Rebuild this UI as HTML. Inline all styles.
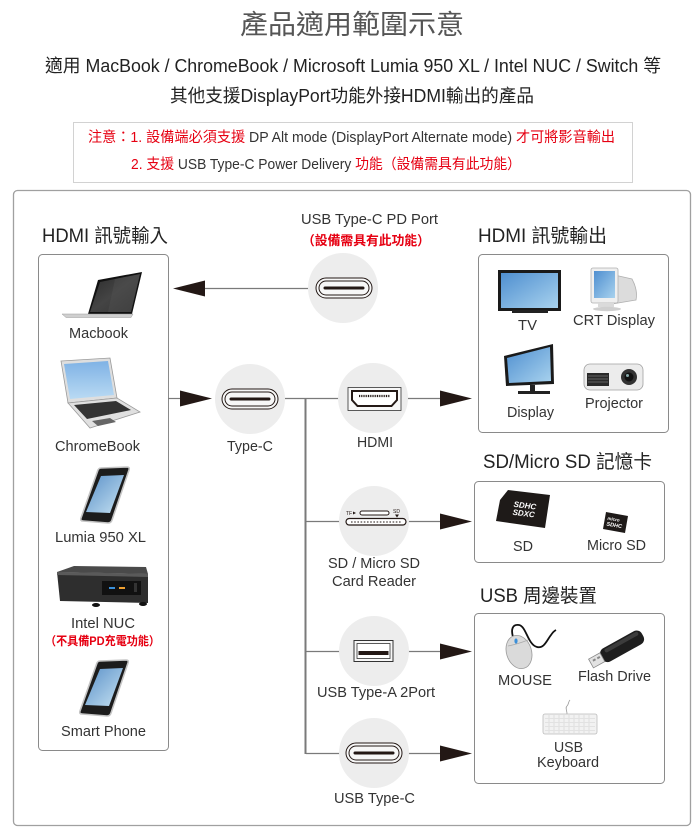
<!DOCTYPE html>
<html><head><meta charset="utf-8"><style>
html,body{margin:0;padding:0;background:#fff;}
svg{display:block;font-family:"Liberation Sans","Noto Sans CJK TC",sans-serif;}
</style></head><body>
<svg width="700" height="838" viewBox="0 0 700 838" xmlns="http://www.w3.org/2000/svg">
<defs>
<linearGradient id="blue" x1="0" y1="0" x2="1" y2="1"><stop offset="0" stop-color="#4f8fd0"/><stop offset="1" stop-color="#a8d2ee"/></linearGradient>
<linearGradient id="blue2" x1="0" y1="0" x2="0" y2="1"><stop offset="0" stop-color="#7fb2e5"/><stop offset="1" stop-color="#b9daf3"/></linearGradient>
<linearGradient id="phone" x1="0" y1="0" x2="1" y2="1"><stop offset="0" stop-color="#5a90c8"/><stop offset="1" stop-color="#c6e2f2"/></linearGradient>
<linearGradient id="mac" x1="0" y1="0" x2="1" y2="1"><stop offset="0" stop-color="#2a2a2a"/><stop offset="0.5" stop-color="#444"/><stop offset="1" stop-color="#333"/></linearGradient>
</defs>

<!-- Header -->
<text x="240" y="34" font-size="27" fill="#555" textLength="224" lengthAdjust="spacingAndGlyphs">產品適用範圍示意</text>
<text x="45" y="72" font-size="18" fill="#222" textLength="616" lengthAdjust="spacingAndGlyphs">適用 MacBook / ChromeBook / Microsoft Lumia 950 XL / Intel NUC  / Switch 等</text>
<text x="170" y="102" font-size="18" fill="#222" textLength="364" lengthAdjust="spacingAndGlyphs">其他支援DisplayPort功能外接HDMI輸出的產品</text>

<rect x="73.5" y="122.5" width="559" height="60" fill="#fff" stroke="#d2d2d2" stroke-width="1"/>
<text x="88" y="142" font-size="14.5" textLength="527" lengthAdjust="spacingAndGlyphs"><tspan fill="#e60012">注意：1. 設備端必須支援</tspan><tspan fill="#333"> DP Alt mode (DisplayPort Alternate mode) </tspan><tspan fill="#e60012">才可將影音輸出</tspan></text>
<text x="131" y="169" font-size="14.5" textLength="390" lengthAdjust="spacingAndGlyphs"><tspan fill="#e60012">2. 支援</tspan><tspan fill="#333"> USB Type-C Power Delivery </tspan><tspan fill="#e60012">功能（設備需具有此功能）</tspan></text>

<!-- Main frame -->
<rect x="13.5" y="190.5" width="677" height="635" rx="4" fill="#fff" stroke="#a0a0a0" stroke-width="1.3"/>

<!-- Section headers -->
<text x="42" y="242" font-size="19" fill="#222" textLength="126" lengthAdjust="spacingAndGlyphs">HDMI 訊號輸入</text>
<text x="478" y="242" font-size="19" fill="#222" textLength="129" lengthAdjust="spacingAndGlyphs">HDMI 訊號輸出</text>
<text x="483" y="468" font-size="19" fill="#222" textLength="169" lengthAdjust="spacingAndGlyphs">SD/Micro SD 記憶卡</text>
<text x="480" y="602" font-size="19" fill="#222" textLength="117" lengthAdjust="spacingAndGlyphs">USB 周邊裝置</text>

<!-- Boxes -->
<rect x="38.5" y="254.5" width="130" height="496" rx="4" fill="#fff" stroke="#8a8a8a" stroke-width="1"/>
<rect x="478.5" y="254.5" width="190" height="178" rx="4" fill="#fff" stroke="#8a8a8a" stroke-width="1"/>
<rect x="474.5" y="481.5" width="190" height="81" rx="4" fill="#fff" stroke="#8a8a8a" stroke-width="1"/>
<rect x="474.5" y="613.5" width="190" height="170" rx="4" fill="#fff" stroke="#8a8a8a" stroke-width="1"/>

<!-- Connector lines -->
<g stroke="#7a7a7a" stroke-width="1.2" fill="none">
<line x1="308" y1="288.5" x2="204" y2="288.5"/>
<line x1="168" y1="398.5" x2="182" y2="398.5"/>
<line x1="285" y1="398.5" x2="340" y2="398.5"/>
<line x1="408" y1="398.5" x2="442" y2="398.5"/>
<line x1="306" y1="521.5" x2="340" y2="521.5"/>
<line x1="408" y1="521.5" x2="442" y2="521.5"/>
<line x1="306" y1="651.5" x2="340" y2="651.5"/>
<line x1="408" y1="651.5" x2="442" y2="651.5"/>
<line x1="306" y1="753.5" x2="340" y2="753.5"/>
<line x1="408" y1="753.5" x2="442" y2="753.5"/>
</g>
<line x1="305.5" y1="398" x2="305.5" y2="754" stroke="#7a7a7a" stroke-width="2"/>

<!-- Arrowheads -->
<g fill="#231815">
<polygon points="173,288.5 205,280.5 205,296.5"/>
<polygon points="212,398.5 180,390.5 180,406.5"/>
<polygon points="472,398.5 440,390.5 440,406.5"/>
<polygon points="472,521.5 440,513.5 440,529.5"/>
<polygon points="472,651.5 440,643.5 440,659.5"/>
<polygon points="472,753.5 440,745.5 440,761.5"/>
</g>

<!-- Circles -->
<g fill="#ededed">
<circle cx="343" cy="288" r="35"/>
<circle cx="250" cy="399" r="35"/>
<circle cx="373" cy="398" r="35"/>
<circle cx="374" cy="521" r="35"/>
<circle cx="374" cy="651" r="35"/>
<circle cx="374" cy="753" r="35"/>
</g>

<!-- Type-C icons -->
<g stroke="#231815" fill="none">
<g transform="translate(344,288)">
<rect x="-28" y="-10" width="56" height="20" rx="10" fill="#f7f7f7" stroke-width="1"/>
<rect x="-25" y="-7" width="50" height="14" rx="7" stroke-width="1"/>
<line x1="-19" y1="0" x2="19" y2="0" stroke-width="3" stroke-linecap="round"/>
</g>
<g transform="translate(250,399)">
<rect x="-28" y="-10" width="56" height="20" rx="10" fill="#f7f7f7" stroke-width="1"/>
<rect x="-25" y="-7" width="50" height="14" rx="7" stroke-width="1"/>
<line x1="-19" y1="0" x2="19" y2="0" stroke-width="3" stroke-linecap="round"/>
</g>
<g transform="translate(374,753)">
<rect x="-28" y="-10" width="56" height="20" rx="10" fill="#f7f7f7" stroke-width="1"/>
<rect x="-25" y="-7" width="50" height="14" rx="7" stroke-width="1"/>
<line x1="-19" y1="0" x2="19" y2="0" stroke-width="3" stroke-linecap="round"/>
</g>
</g>

<!-- HDMI icon -->
<rect x="348" y="387.5" width="53" height="23" fill="#f7f7f7" stroke="#333" stroke-width="0.8"/>
<path d="M352,391 H397 V400 L391.5,406 H357.5 L352,400 Z" fill="#fff" stroke="#231815" stroke-width="2"/>
<line x1="359" y1="396" x2="390" y2="396" stroke="#231815" stroke-width="2.2" stroke-dasharray="1,0.8"/>

<!-- SD reader icon -->
<text x="346" y="515" font-size="5" fill="#231815">TF</text>
<polygon points="353,511.5 356,513 353,514.5" fill="#231815"/>
<rect x="360" y="511" width="29" height="4" rx="2" fill="#fff" stroke="#231815" stroke-width="1"/>
<text x="393" y="513" font-size="5" fill="#231815">SD</text>
<polygon points="395,514.5 399,514.5 397,517.5" fill="#231815"/>
<rect x="346" y="518.5" width="60" height="6.5" rx="3.2" fill="#fff" stroke="#231815" stroke-width="1.2"/>
<line x1="351" y1="522" x2="401" y2="522" stroke="#231815" stroke-width="1" stroke-dasharray="1.6,1.6"/>

<!-- USB-A icon -->
<rect x="354" y="640.5" width="39" height="21" fill="#f7f7f7" stroke="#333" stroke-width="1"/>
<rect x="357" y="643.5" width="33" height="15" fill="#fff" stroke="#333" stroke-width="0.8"/>
<rect x="358.5" y="651" width="30" height="4" fill="#231815"/>

<!-- Center labels -->
<g font-size="15" fill="#333">
<text x="301" y="224" textLength="137" lengthAdjust="spacingAndGlyphs">USB Type-C PD Port</text>
<text x="227" y="451" textLength="46" lengthAdjust="spacingAndGlyphs">Type-C</text>
<text x="357" y="447" textLength="36" lengthAdjust="spacingAndGlyphs">HDMI</text>
<text x="328" y="568" textLength="92" lengthAdjust="spacingAndGlyphs">SD / Micro SD</text>
<text x="332" y="586" textLength="84" lengthAdjust="spacingAndGlyphs">Card Reader</text>
<text x="317" y="697" textLength="118" lengthAdjust="spacingAndGlyphs">USB Type-A 2Port</text>
<text x="334" y="803" textLength="81" lengthAdjust="spacingAndGlyphs">USB Type-C</text>
</g>
<text x="302" y="245" font-size="13" font-weight="bold" fill="#e60012" textLength="128" lengthAdjust="spacingAndGlyphs">（設備需具有此功能）</text>

<!-- Left labels -->
<g font-size="15" fill="#333">
<text x="69" y="338" textLength="59" lengthAdjust="spacingAndGlyphs">Macbook</text>
<text x="55" y="451" textLength="85" lengthAdjust="spacingAndGlyphs">ChromeBook</text>
<text x="55" y="542" textLength="91" lengthAdjust="spacingAndGlyphs">Lumia 950 XL</text>
<text x="71" y="628" textLength="64" lengthAdjust="spacingAndGlyphs">Intel NUC</text>
<text x="61" y="736" textLength="85" lengthAdjust="spacingAndGlyphs">Smart Phone</text>
</g>
<text x="45" y="645" font-size="12" font-weight="bold" fill="#e60012" textLength="115" lengthAdjust="spacingAndGlyphs">（不具備PD充電功能）</text>

<!-- Right labels -->
<g font-size="15" fill="#333">
<text x="518" y="330" textLength="19" lengthAdjust="spacingAndGlyphs">TV</text>
<text x="573" y="325" textLength="82" lengthAdjust="spacingAndGlyphs">CRT Display</text>
<text x="507" y="417" textLength="47" lengthAdjust="spacingAndGlyphs">Display</text>
<text x="585" y="408" textLength="58" lengthAdjust="spacingAndGlyphs">Projector</text>
<text x="513" y="551" textLength="20" lengthAdjust="spacingAndGlyphs">SD</text>
<text x="587" y="550" textLength="59" lengthAdjust="spacingAndGlyphs">Micro SD</text>
<text x="498" y="685" textLength="54" lengthAdjust="spacingAndGlyphs">MOUSE</text>
<text x="578" y="681" textLength="73" lengthAdjust="spacingAndGlyphs">Flash Drive</text>
<text x="554" y="752" textLength="29" lengthAdjust="spacingAndGlyphs">USB</text>
<text x="537" y="767" textLength="62" lengthAdjust="spacingAndGlyphs">Keyboard</text>
</g>

<!-- Macbook -->
<polygon points="98,280 142,272 132,314 88,314" fill="#111"/>
<polygon points="100,282 140,274 131,312 90,312" fill="url(#mac)"/>
<polygon points="115,279 140,274 131,312 108,312" fill="#555" opacity="0.35"/>
<path d="M62,314 L133,314 L131,317.5 L66,317.5 Z" fill="#cfcfcf" stroke="#999" stroke-width="0.5"/>

<!-- ChromeBook -->
<polygon points="61,361 110,358 117,398 68,403" fill="#dedede" stroke="#9a9a9a" stroke-width="0.8"/>
<polygon points="64,364 108,361 114,395 70,399" fill="url(#blue2)"/>
<polygon points="68,403 117,398 140,412 90,428" fill="#e0e0e0" stroke="#9a9a9a" stroke-width="0.8"/>
<polygon points="74,405 116,401 131,410 87,419" fill="#333"/>
<polygon points="92,421 110,418 116,422 98,426" fill="#666"/>

<!-- Lumia -->
<g>
<path d="M101,468 L127,467 Q130,467 129,470 L112,520 Q111,523 108,523 L83,521 Q80,521 81,518 L98,470 Q99,468 101,468 Z" fill="#1c1c1c" stroke="#c4c4c4" stroke-width="1.6"/>
<polygon points="101,476 124,475 110,513 86,512" fill="url(#phone)"/>
</g>
<!-- Smart Phone -->
<g transform="translate(-1,193)">
<path d="M101,468 L127,467 Q130,467 129,470 L112,520 Q111,523 108,523 L83,521 Q80,521 81,518 L98,470 Q99,468 101,468 Z" fill="#1c1c1c" stroke="#c4c4c4" stroke-width="1.6"/>
<polygon points="101,476 124,475 110,513 86,512" fill="url(#phone)"/>
</g>

<!-- Intel NUC -->
<polygon points="57,572 74,566 146,567 148,574" fill="#4a4a4a"/>
<path d="M57,572 L148,574 L148,603 L60,601 Z" fill="#2e2e2e"/>
<polygon points="57,572 148,574 148,577 57,575" fill="#5a5a5a"/>
<rect x="102" y="581" width="39" height="14" fill="#111"/>
<rect x="109" y="587" width="6" height="2" fill="#3a8fd9"/>
<rect x="119" y="587" width="6" height="2" fill="#f0a030"/>
<rect x="134" y="583" width="3" height="9" fill="#333"/>
<ellipse cx="96" cy="605" rx="4" ry="2" fill="#111"/>
<ellipse cx="143" cy="604" rx="4" ry="2" fill="#111"/>

<!-- TV -->
<rect x="498" y="270" width="63" height="41" fill="#1a1a1a"/>
<rect x="501" y="273" width="57" height="35" fill="url(#blue)"/>
<rect x="512" y="310" width="36" height="3" fill="#222"/>

<!-- CRT -->
<path d="M610,274 L632,279 Q638,290 636,300 L612,304 Z" fill="#dcdcdc" stroke="#b0b0b0" stroke-width="0.8"/>
<rect x="591" y="268" width="27" height="35" rx="2" fill="#efefef" stroke="#b0b0b0" stroke-width="0.8"/>
<rect x="594" y="271" width="21" height="27" fill="url(#blue)"/>
<rect x="598" y="303" width="16" height="4" fill="#dadada"/>
<ellipse cx="607" cy="309" rx="14" ry="2.2" fill="#cfcfcf"/>

<!-- Display -->
<polygon points="504,356 553,344 554,384 506,386" fill="#1a1a1a"/>
<polygon points="507,358 550,347 551,381 509,383" fill="url(#blue)"/>
<rect x="530" y="385" width="5" height="6" fill="#222"/>
<rect x="518" y="391" width="32" height="3" fill="#222"/>

<!-- Projector -->
<rect x="584" y="364" width="59" height="26" rx="6" fill="#ececec" stroke="#a0a0a0" stroke-width="0.8"/>
<rect x="587" y="373" width="22" height="13" fill="#2a2a2a"/>
<g stroke="#777" stroke-width="0.8"><line x1="588" y1="376" x2="608" y2="376"/><line x1="588" y1="379" x2="608" y2="379"/><line x1="588" y1="382" x2="608" y2="382"/></g>
<circle cx="629" cy="377" r="8" fill="#333"/>
<circle cx="629" cy="377" r="4.5" fill="#111"/>
<circle cx="627.5" cy="375.5" r="1.5" fill="#8aa"/>

<!-- SD card -->
<polygon points="500,500 508,490 550,495 545,528 496,521" fill="#1e1a18"/>
<g transform="rotate(7 523 510)" fill="#fff" font-size="8" font-weight="bold" font-style="italic">
<text x="513" y="508">SDHC</text>
<text x="513" y="516">SDXC</text>
</g>
<!-- Micro SD -->
<polygon points="606,512 628,516 625,533 603,529" fill="#1e1a18"/>
<g transform="rotate(10 615 522)" fill="#fff" font-weight="bold" font-style="italic">
<text x="607" y="521" font-size="4.5">micro</text>
<text x="607" y="527" font-size="5.5">SDHC</text>
</g>

<!-- Mouse -->
<path d="M513,637 C511,630 512,624 519,625 C526,626 528,645 537,647 C544,649 547,640 551,635 C553,632 554,631 556,630" fill="none" stroke="#111" stroke-width="1.8"/>
<ellipse cx="519" cy="652" rx="12.5" ry="17" transform="rotate(-18 519 652)" fill="#dadada" stroke="#9a9a9a" stroke-width="0.8"/>
<path d="M508,646 Q518,644 528,640" fill="none" stroke="#aaa" stroke-width="0.7"/>
<ellipse cx="516" cy="641" rx="1.6" ry="2.6" fill="#3a8fd9"/>

<!-- Flash drive -->
<g transform="translate(619,648) rotate(-29)">
<rect x="-20" y="-7.5" width="47" height="15" rx="6" fill="#1e1e1e"/>
<rect x="-14" y="-6" width="38" height="4" rx="2" fill="#3c3c3c"/>
<rect x="-32" y="-5" width="13" height="10" fill="#e2e2e2" stroke="#888" stroke-width="0.8"/>
<rect x="-29" y="-2.5" width="3" height="2" fill="#888"/>
<rect x="-24" y="-2.5" width="3" height="2" fill="#888"/>
</g>

<!-- Keyboard -->
<path d="M567,714 C567,710 565,708 567,706 C569,704 568,702 570,700" fill="none" stroke="#999" stroke-width="0.8"/>
<rect x="543" y="714" width="54" height="20" rx="2" fill="#f2f2f2" stroke="#bbb" stroke-width="0.8"/>
<g stroke="#d2d2d2" stroke-width="0.6">
<line x1="545" y1="718.5" x2="595" y2="718.5"/>
<line x1="545" y1="722.5" x2="595" y2="722.5"/>
<line x1="545" y1="726.5" x2="595" y2="726.5"/>
<line x1="545" y1="730.5" x2="595" y2="730.5"/>
<line x1="549" y1="715" x2="549" y2="733" stroke-dasharray="3,1"/>
<line x1="554" y1="715" x2="554" y2="733" stroke-dasharray="3,1"/>
<line x1="559" y1="715" x2="559" y2="733" stroke-dasharray="3,1"/>
<line x1="564" y1="715" x2="564" y2="733" stroke-dasharray="3,1"/>
<line x1="569" y1="715" x2="569" y2="733" stroke-dasharray="3,1"/>
<line x1="574" y1="715" x2="574" y2="733" stroke-dasharray="3,1"/>
<line x1="579" y1="715" x2="579" y2="733" stroke-dasharray="3,1"/>
<line x1="584" y1="715" x2="584" y2="733" stroke-dasharray="3,1"/>
<line x1="589" y1="715" x2="589" y2="733" stroke-dasharray="3,1"/>
</g>
</svg>
</body></html>
